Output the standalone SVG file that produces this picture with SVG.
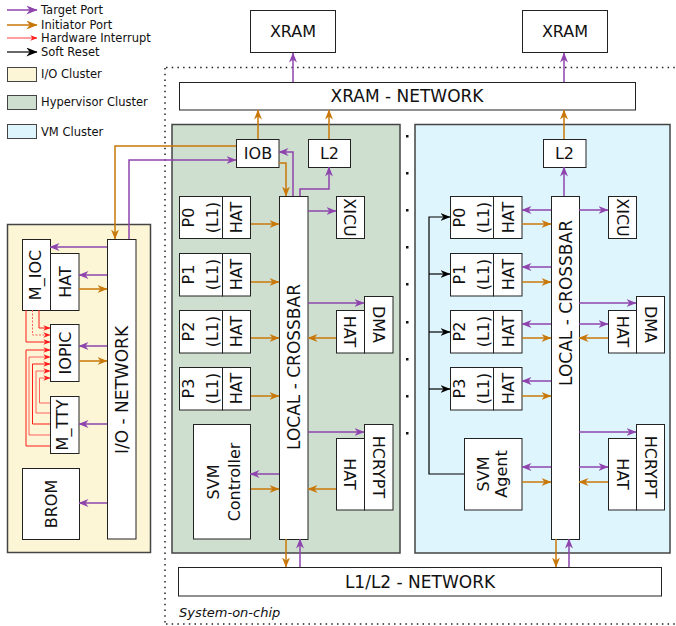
<svg xmlns="http://www.w3.org/2000/svg" width="676" height="626" viewBox="0 0 676 626">
<defs>
<marker id="ap" viewBox="0 0 10 8" refX="9.5" refY="4" markerWidth="10" markerHeight="8" markerUnits="userSpaceOnUse" orient="auto"><path d="M0,0 L10,4 L0,8 L3,4 z" fill="#8e44ad"/></marker>
<marker id="ao" viewBox="0 0 10 8" refX="9.5" refY="4" markerWidth="10" markerHeight="8" markerUnits="userSpaceOnUse" orient="auto"><path d="M0,0 L10,4 L0,8 L3,4 z" fill="#c8780a"/></marker>
<marker id="ar" viewBox="0 0 10 8" refX="9.5" refY="4" markerWidth="7" markerHeight="6" markerUnits="userSpaceOnUse" orient="auto"><path d="M0,0 L10,4 L0,8 L3,4 z" fill="#ff1a1a"/></marker>
<marker id="ak" viewBox="0 0 10 8" refX="9.5" refY="4" markerWidth="10" markerHeight="8" markerUnits="userSpaceOnUse" orient="auto"><path d="M0,0 L10,4 L0,8 L3,4 z" fill="#000"/></marker>
<marker id="apL" viewBox="0 0 10 8" refX="9.5" refY="4" markerWidth="13" markerHeight="9" markerUnits="userSpaceOnUse" orient="auto"><path d="M0,0 L10,4 L0,8 L3,4 z" fill="#8e44ad"/></marker>
<marker id="aoL" viewBox="0 0 10 8" refX="9.5" refY="4" markerWidth="13" markerHeight="9" markerUnits="userSpaceOnUse" orient="auto"><path d="M0,0 L10,4 L0,8 L3,4 z" fill="#c8780a"/></marker>
<marker id="akL" viewBox="0 0 10 8" refX="9.5" refY="4" markerWidth="13" markerHeight="9" markerUnits="userSpaceOnUse" orient="auto"><path d="M0,0 L10,4 L0,8 L3,4 z" fill="#000"/></marker>
</defs>
<style>
text{font-family:"DejaVu Sans","Liberation Sans",sans-serif;fill:#111}
.lg{font-size:11.5px}
.c{font-size:16px;text-anchor:middle}
.n{font-size:17px;text-anchor:middle}
.box{fill:#fff;stroke:#222;stroke-width:1}
.cl{stroke:#444;stroke-width:1.5}
.p{fill:none;stroke:#8e44ad;stroke-width:1.5;marker-end:url(#ap)}
.o{fill:none;stroke:#c8780a;stroke-width:1.5;marker-end:url(#ao)}
.r{fill:none;stroke:#ff1a1a;stroke-width:1;marker-end:url(#ar)}
.r2{fill:none;stroke:#ff6060;stroke-width:1;marker-end:url(#ar)}
.k{fill:none;stroke:#000;stroke-width:1.2;marker-end:url(#ak)}
.dot{fill:none;stroke:#222;stroke-width:1.5;stroke-dasharray:1.5 4.2}
</style>

<!-- legend -->
<g id="legend">
<line x1="7" y1="10" x2="37" y2="10" stroke="#8e44ad" stroke-width="1.5" marker-end="url(#apL)"/>
<text class="lg" x="41" y="14">Target Port</text>
<line x1="7" y1="25" x2="37" y2="25" stroke="#c8780a" stroke-width="1.5" marker-end="url(#aoL)"/>
<text class="lg" x="41" y="29">Initiator Port</text>
<line x1="7" y1="38" x2="37" y2="38" stroke="#ff4040" stroke-width="1" marker-end="url(#ar)"/>
<text class="lg" x="41" y="42">Hardware Interrupt</text>
<line x1="7" y1="52" x2="37" y2="52" stroke="#000" stroke-width="1.2" marker-end="url(#akL)"/>
<text class="lg" x="41" y="56">Soft Reset</text>
<rect x="7.5" y="67.5" width="29" height="14" fill="#fcf6d6" stroke="#444"/>
<text class="lg" x="41" y="77.5">I/O Cluster</text>
<rect x="7.5" y="95.5" width="29" height="14" fill="#cfdfcf" stroke="#444"/>
<text class="lg" x="41" y="105.5">Hypervisor Cluster</text>
<rect x="7.5" y="124.5" width="29" height="14" fill="#def5fd" stroke="#444"/>
<text class="lg" x="41" y="135.5">VM Cluster</text>
</g>

<!-- system on chip boundary -->
<g id="soc">
<path class="dot" d="M166,67.5 H676 M165,68 V624 M166,624 H676"/>
<text x="179" y="617" style="font-size:13px;font-style:italic">System-on-chip</text>
<g fill="#111">
<rect x="406" y="135" width="2.5" height="2.5"/><rect x="406" y="172" width="2.5" height="2.5"/><rect x="406" y="209" width="2.5" height="2.5"/><rect x="406" y="246" width="2.5" height="2.5"/><rect x="406" y="283" width="2.5" height="2.5"/><rect x="406" y="321" width="2.5" height="2.5"/><rect x="406" y="358" width="2.5" height="2.5"/><rect x="406" y="395" width="2.5" height="2.5"/><rect x="406" y="432" width="2.5" height="2.5"/>
</g>
</g>

<!-- clusters -->
<rect id="io-cluster" x="7.5" y="224.5" width="143" height="328" fill="#fcf6d6" class="cl"/>
<rect id="hyp-cluster" x="172" y="124.5" width="228" height="428.5" fill="#cfdfcf" class="cl"/>
<rect id="vm-cluster" x="415" y="124.5" width="255" height="428.5" fill="#def5fd" class="cl"/>

<!-- external -->
<g id="xram1"><rect class="box" x="250.5" y="10.5" width="85" height="42"/><text class="c" x="293" y="37">XRAM</text></g>
<g id="xram2"><rect class="box" x="522.5" y="10.5" width="85" height="42"/><text class="c" x="565" y="37">XRAM</text></g>
<g id="xram-network"><rect class="box" x="179.5" y="82.5" width="456" height="27.5"/><text class="n" x="407" y="102">XRAM - NETWORK</text></g>
<g id="l1l2-network"><rect class="box" x="178.5" y="567.5" width="483" height="28.5"/><text class="n" x="420" y="588">L1/L2 - NETWORK</text></g>

<!-- I/O cluster nodes -->
<g id="io-network"><rect class="box" x="107.5" y="239.5" width="28.5" height="299.5"/><text class="n" transform="translate(127.5,390) rotate(-90)">I/O - NETWORK</text></g>
<g id="m-ioc"><rect class="box" x="22.5" y="239.5" width="28" height="71"/><text class="c" transform="translate(41,275) rotate(-90)">M_IOC</text></g>
<g id="m-ioc-hat"><rect class="box" x="50.5" y="253.5" width="28.5" height="57"/><text class="c" transform="translate(71,282) rotate(-90)">HAT</text></g>
<g id="iopic"><rect class="box" x="50.5" y="324.5" width="28.5" height="57"/><text class="c" transform="translate(71,353) rotate(-90)">IOPIC</text></g>
<g id="m-tty"><rect class="box" x="50.5" y="396.5" width="28.5" height="57"/><text class="c" transform="translate(67.5,425) rotate(-90)">M_TTY</text></g>
<g id="brom"><rect class="box" x="22.5" y="468.5" width="57" height="71"/><text class="c" transform="translate(57,504) rotate(-90)">BROM</text></g>

<!-- Hypervisor cluster nodes -->
<g id="iob"><rect class="box" x="236.5" y="139.5" width="42.5" height="28"/><text class="c" x="258" y="159">IOB</text></g>
<g id="hyp-l2"><rect class="box" x="308.5" y="139.5" width="42" height="28"/><text class="c" x="329.5" y="159">L2</text></g>
<g id="hyp-xbar"><rect class="box" x="279.5" y="196.5" width="28.5" height="343"/><text class="n" transform="translate(300,367) rotate(-90)">LOCAL - CROSSBAR</text></g>
<g id="hyp-p0"><rect class="box" x="179.5" y="196.5" width="43" height="42"/><rect class="box" x="222.5" y="196.5" width="28" height="42"/>
<text class="c" transform="translate(193.5,217.5) rotate(-90)">P0</text><text class="c" transform="translate(217.5,217.5) rotate(-90)">(L1)</text><text class="c" transform="translate(242,217.5) rotate(-90)">HAT</text></g>
<g id="hyp-p1"><rect class="box" x="179.5" y="253.5" width="43" height="42.5"/><rect class="box" x="222.5" y="253.5" width="28" height="42.5"/>
<text class="c" transform="translate(193.5,274.5) rotate(-90)">P1</text><text class="c" transform="translate(217.5,274.5) rotate(-90)">(L1)</text><text class="c" transform="translate(242,274.5) rotate(-90)">HAT</text></g>
<g id="hyp-p2"><rect class="box" x="179.5" y="310.5" width="43" height="42.5"/><rect class="box" x="222.5" y="310.5" width="28" height="42.5"/>
<text class="c" transform="translate(193.5,331.5) rotate(-90)">P2</text><text class="c" transform="translate(217.5,331.5) rotate(-90)">(L1)</text><text class="c" transform="translate(242,331.5) rotate(-90)">HAT</text></g>
<g id="hyp-p3"><rect class="box" x="179.5" y="367.5" width="43" height="42.5"/><rect class="box" x="222.5" y="367.5" width="28" height="42.5"/>
<text class="c" transform="translate(193.5,388.5) rotate(-90)">P3</text><text class="c" transform="translate(217.5,388.5) rotate(-90)">(L1)</text><text class="c" transform="translate(242,388.5) rotate(-90)">HAT</text></g>
<g id="svm-controller"><rect class="box" x="193.5" y="424.5" width="57" height="114.5"/>
<text class="c" transform="translate(219,482) rotate(-90)">SVM</text><text class="c" transform="translate(239.5,482) rotate(-90)">Controller</text></g>
<g id="hyp-xicu"><rect class="box" x="336.5" y="196.5" width="28" height="42"/><text class="c" transform="translate(344,217.5) rotate(90)">XICU</text></g>
<g id="hyp-dma"><rect class="box" x="364.5" y="296.5" width="28.5" height="56.5"/><rect class="box" x="336.5" y="310.5" width="28" height="42.5"/>
<text class="c" transform="translate(372.5,324.5) rotate(90)">DMA</text><text class="c" transform="translate(344,331.5) rotate(90)">HAT</text></g>
<g id="hyp-hcrypt"><rect class="box" x="364.5" y="424.5" width="28.5" height="85.5"/><rect class="box" x="336.5" y="438.5" width="28" height="71.5"/>
<text class="c" transform="translate(372.5,467) rotate(90)">HCRYPT</text><text class="c" transform="translate(344,474) rotate(90)">HAT</text></g>

<!-- VM cluster nodes -->
<g id="vm-l2"><rect class="box" x="543.5" y="139.5" width="42.5" height="28"/><text class="c" x="564.5" y="159">L2</text></g>
<g id="vm-xbar"><rect class="box" x="551.5" y="196.5" width="28" height="343"/><text class="n" transform="translate(571.5,303) rotate(-90)">LOCAL - CROSSBAR</text></g>
<g id="vm-p0"><rect class="box" x="450.5" y="196.5" width="43" height="42"/><rect class="box" x="493.5" y="196.5" width="28.5" height="42"/>
<text class="c" transform="translate(464.5,217.5) rotate(-90)">P0</text><text class="c" transform="translate(488.5,217.5) rotate(-90)">(L1)</text><text class="c" transform="translate(513.5,217.5) rotate(-90)">HAT</text></g>
<g id="vm-p1"><rect class="box" x="450.5" y="253.5" width="43" height="42.5"/><rect class="box" x="493.5" y="253.5" width="28.5" height="42.5"/>
<text class="c" transform="translate(464.5,274.5) rotate(-90)">P1</text><text class="c" transform="translate(488.5,274.5) rotate(-90)">(L1)</text><text class="c" transform="translate(513.5,274.5) rotate(-90)">HAT</text></g>
<g id="vm-p2"><rect class="box" x="450.5" y="310.5" width="43" height="42.5"/><rect class="box" x="493.5" y="310.5" width="28.5" height="42.5"/>
<text class="c" transform="translate(464.5,331.5) rotate(-90)">P2</text><text class="c" transform="translate(488.5,331.5) rotate(-90)">(L1)</text><text class="c" transform="translate(513.5,331.5) rotate(-90)">HAT</text></g>
<g id="vm-p3"><rect class="box" x="450.5" y="367.5" width="43" height="42.5"/><rect class="box" x="493.5" y="367.5" width="28.5" height="42.5"/>
<text class="c" transform="translate(464.5,388.5) rotate(-90)">P3</text><text class="c" transform="translate(488.5,388.5) rotate(-90)">(L1)</text><text class="c" transform="translate(513.5,388.5) rotate(-90)">HAT</text></g>
<g id="svm-agent"><rect class="box" x="464.5" y="438.5" width="57.5" height="71.5"/>
<text class="c" transform="translate(488.5,474) rotate(-90)">SVM</text><text class="c" transform="translate(507,474) rotate(-90)">Agent</text></g>
<g id="vm-xicu"><rect class="box" x="608.5" y="196.5" width="28" height="42"/><text class="c" transform="translate(616.5,217.5) rotate(90)">XICU</text></g>
<g id="vm-dma"><rect class="box" x="636.5" y="296.5" width="28" height="56.5"/><rect class="box" x="608.5" y="310.5" width="28" height="42.5"/>
<text class="c" transform="translate(644.5,324.5) rotate(90)">DMA</text><text class="c" transform="translate(616.5,331.5) rotate(90)">HAT</text></g>
<g id="vm-hcrypt"><rect class="box" x="636.5" y="424.5" width="28" height="85.5"/><rect class="box" x="608.5" y="438.5" width="28" height="71.5"/>
<text class="c" transform="translate(644.5,467) rotate(90)">HCRYPT</text><text class="c" transform="translate(616.5,474) rotate(90)">HAT</text></g>

<!-- connectors -->
<g id="connectors">
<path class="p" d="M293,82 V53"/>
<path class="p" d="M564,82 V53"/>
<path class="o" d="M258,139 V110"/>
<path class="o" d="M329,139 V110"/>
<path class="o" d="M564,139 V110"/>

<path class="o" d="M279,163 H286 V196"/>
<path class="p" d="M293,196 V152 H279"/>
<path class="p" d="M300,196 V189 H329 V167"/>
<path class="o" d="M236,146 H115 V239"/>
<path class="p" d="M129,239 V160 H236"/>

<path class="o" d="M251,224 H279"/>
<path class="o" d="M251,282 H279"/>
<path class="o" d="M251,338 H279"/>
<path class="o" d="M251,396 H279"/>
<path class="p" d="M279,474 H250"/>
<path class="o" d="M251,489 H279"/>
<path class="p" d="M308,211 H336"/>
<path class="p" d="M308,303 H364"/>
<path class="o" d="M336,338 H308"/>
<path class="p" d="M308,432 H364"/>
<path class="o" d="M336,489 H308"/>
<path class="o" d="M286,539 V567"/>
<path class="p" d="M300,567 V539"/>

<path class="p" d="M564,196 V167"/>
<path class="p" d="M551,210 H522"/>
<path class="o" d="M522,224 H551"/>
<path class="p" d="M551,267 H522"/>
<path class="o" d="M522,282 H551"/>
<path class="p" d="M551,324 H522"/>
<path class="o" d="M522,338 H551"/>
<path class="p" d="M551,381 H522"/>
<path class="o" d="M522,396 H551"/>
<path class="p" d="M551,467 H522"/>
<path class="o" d="M522,482 H551"/>
<path class="p" d="M579,210 H608"/>
<path class="p" d="M579,303 H636"/>
<path class="p" d="M579,324 H608"/>
<path class="o" d="M608,338 H579"/>
<path class="p" d="M579,432 H636"/>
<path class="p" d="M579,467 H608"/>
<path class="o" d="M608,482 H579"/>
<path class="o" d="M556,539 V567"/>
<path class="p" d="M569,567 V539"/>

<path class="k" d="M464,474 H429 V217 H450"/>
<path class="k" d="M429,274 H450"/>
<path class="k" d="M429,332 H450"/>
<path class="k" d="M429,389 H450"/>

<path class="p" d="M107,247 H50"/>
<path class="p" d="M107,275 H79"/>
<path class="o" d="M79,289 H107"/>
<path class="p" d="M107,346 H79"/>
<path class="o" d="M79,361 H107"/>
<path class="p" d="M107,424 H79"/>
<path class="p" d="M107,503 H79"/>

<path class="r" d="M39,310 V328 H50"/>
<path class="r2" d="M32.5,310 V335 H50" stroke-dasharray="2 1.5"/>
<path class="r" d="M26,310 V342 H50"/>
<path class="r" d="M50,446 H26 V350 H50"/>
<path class="r2" d="M50,435 H29 V357 H50"/>
<path class="r" d="M50,424 H32.5 V364 H50"/>
<path class="r2" d="M50,413 H36 V371 H50"/>
<path class="r2" d="M50,403 H39.5 V378 H50"/>
</g>
</svg>
